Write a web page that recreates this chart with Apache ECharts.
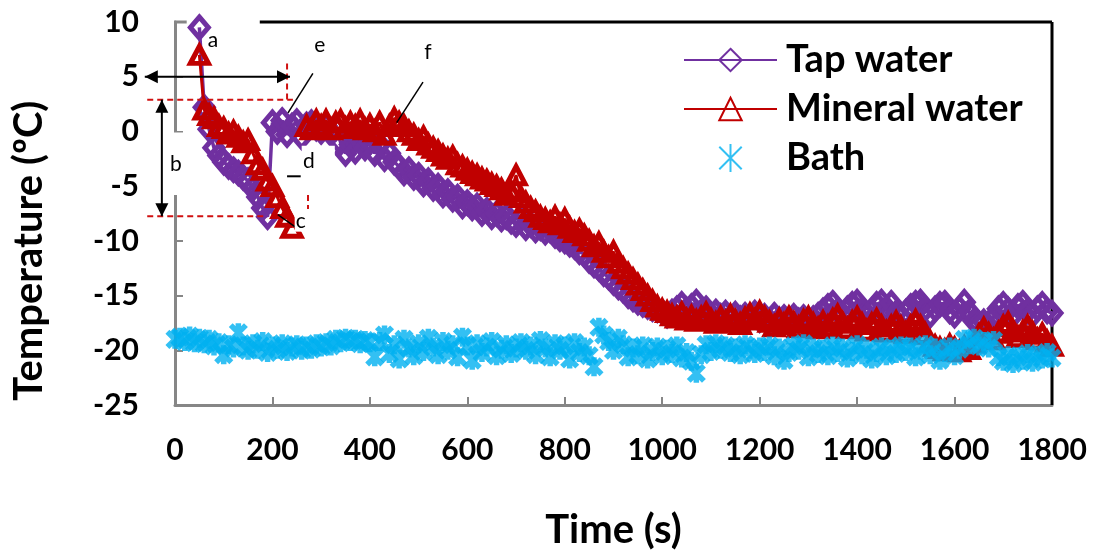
<!DOCTYPE html>
<html><head><meta charset="utf-8">
<script src="https://cdn.jsdelivr.net/npm/echarts@6/dist/echarts.min.js"></script>
<style>html,body{margin:0;padding:0;background:#fff}#c{width:1094px;height:555px}</style>
</head><body><div id="c"></div>
<script>
// ---------- data ----------
const seriesNames = ['Tap water', 'Mineral water', 'Bath'];
const tapStart = 50, tapStep = 10;
const tapWater = [
 9.5, 2.2, 0.2, -1.5, -2.2, -2.8, -3.2, -3.5, -3.8, -4.2,
 -4.5, -5.2, -6.0, -7.0, -7.8, 0.8, 0.0, 1.0, -0.3, 0.5,
 0.9, -0.5, 0.6, 0.8, 0.3, 0.0, 0.5, -0.2, 0.3, -1.0,
 -2.0, -1.2, -1.8, -0.8, -1.5, -1.0, -2.0, -1.2, -2.5, -2.0,
 -2.8, -3.2, -3.8, -3.5, -4.2, -4.0, -4.8, -4.5, -5.2, -5.0,
 -5.8, -5.5, -6.2, -6.0, -6.8, -6.5, -7.0, -6.8, -7.5, -7.2,
 -7.8, -7.5, -8.0, -7.8, -8.2, -8.5, -8.0, -8.8, -8.5, -9.0,
 -8.8, -9.2, -9.0, -9.5, -9.8, -10.0, -10.3, -10.5, -11.0, -11.2,
 -11.8, -12.2, -12.5, -13.0, -13.3, -13.8, -14.2, -14.5, -15.0, -15.3,
 -15.6, -15.8, -16.0, -16.2, -16.3, -16.5, -16.8, -16.5, -16.2, -15.8,
 -16.3, -16.0, -15.6, -16.5, -16.2, -16.8, -16.5, -16.9, -16.6, -17.0,
 -16.7, -17.1, -16.8, -17.0, -16.6, -17.2, -16.9, -17.3, -16.8, -17.2,
 -17.0, -17.4, -16.9, -17.3, -17.0, -17.4, -17.1, -16.8, -16.4, -16.0,
 -15.7, -16.4, -16.8, -16.2, -15.8, -15.6, -16.3, -16.9, -16.4, -15.8,
 -15.6, -16.2, -15.7, -16.6, -17.0, -16.5, -16.0, -15.7, -15.6, -16.2,
 -16.8, -16.2, -15.8, -15.7, -16.4, -16.8, -16.2, -15.6, -16.5, -17.3,
 -17.6, -17.4, -17.8, -17.0, -16.2, -15.8, -16.3, -16.8, -16.0, -15.7,
 -16.4, -16.8, -16.2, -15.8, -16.4, -16.6
];
const mineralStart = 50, mineralStep = 10;
const mineralWater = [
 7.0, 2.0, 1.5, 1.2, 0.5, 0.3, -0.2, 0.0, -0.5, -1.0,
 -0.8, -2.0, -3.0, -3.5, -4.5, -5.0, -6.0, -7.0, -7.8, -8.8,
 null, null, 0.5, 0.2, 1.0, 0.5, 1.0, 0.2, 0.8, 1.0,
 0.3, 0.8, 0.5, 1.0, 0.2, 0.6, 0.0, 0.8, -0.3, 0.5,
 1.2, 0.8, 0.5, 0.0, -0.3, -0.8, -0.5, -1.2, -1.5, -1.8,
 -2.2, -2.5, -2.3, -3.0, -3.2, -3.5, -3.8, -4.0, -4.3, -4.5,
 -4.8, -5.0, -5.3, -5.8, -5.5, -4.0, -6.0, -6.5, -7.0, -7.3,
 -7.8, -8.0, -8.3, -7.8, -8.5, -8.0, -8.8, -9.2, -9.0, -9.5,
 -10.0, -10.5, -10.2, -11.0, -11.5, -11.0, -12.0, -12.5, -13.0, -13.5,
 -14.0, -14.5, -15.0, -15.5, -16.0, -16.3, -16.5, -16.8, -17.0, -16.6,
 -17.2, -16.9, -17.3, -17.0, -16.6, -17.2, -17.5, -17.0, -17.4, -16.8,
 -17.3, -17.6, -17.1, -16.7, -17.2, -16.5, -17.0, -17.4, -17.8, -17.2,
 -17.6, -17.0, -17.5, -17.9, -17.3, -17.0, -17.6, -18.0, -17.4, -17.8,
 -17.2, -16.8, -17.5, -18.0, -17.4, -17.0, -17.6, -18.2, -17.6, -17.2,
 -17.8, -18.3, -17.8, -17.4, -17.9, -18.4, -17.8, -17.3, -17.8, -18.5,
 -19.2, -19.6, -19.8, -20.0, -19.5, -19.8, -20.1, -19.7, -19.9, -19.3,
 -18.6, -18.0, -18.5, -19.0, -18.4, -17.8, -17.5, -18.2, -18.8, -18.3,
 -17.8, -18.4, -19.0, -18.5, -19.2, -19.6
];
const bathStart = 0, bathStep = 10;
const bath = [
 -19.0, -18.8, -19.2, -18.7, -19.3, -18.9, -19.4, -19.0, -19.6, -19.3,
 -20.4, -19.5, -19.8, -18.4, -19.6, -20.0, -19.4, -19.9, -19.2, -20.2,
 -19.6, -19.9, -19.4, -20.1, -19.7, -19.5, -20.0, -19.6, -19.9, -19.4,
 -19.7, -19.3, -19.6, -19.0, -19.3, -18.9, -19.2, -19.0, -19.4, -19.1,
 -19.3, -20.6, -19.2, -18.6, -20.3, -19.5, -20.8, -19.0, -19.8, -20.5,
 -19.4, -20.1, -18.9, -19.7, -20.4, -19.2, -20.0, -19.5, -20.6, -18.8,
 -19.6, -20.9, -19.4, -20.2, -19.7, -19.2, -20.5, -19.9, -19.5, -20.3,
 -19.8, -19.3, -20.0, -19.6, -20.4, -19.1, -19.8, -20.6, -19.4, -20.0,
 -19.6, -20.8, -19.3, -20.2, -19.7, -20.5, -21.5, -17.9, -18.6, -19.2,
 -20.0, -18.9, -19.5, -20.6, -19.8, -20.4, -19.6, -20.8, -20.1, -19.7,
 -20.5, -19.9, -20.3, -19.6, -20.7, -20.2, -21.0, -22.1, -20.4, -19.5,
 -20.1, -19.4, -19.9, -19.6, -20.2, -19.8, -20.4, -19.5, -19.9, -20.3,
 -19.7, -20.1, -19.6, -20.5, -19.8, -20.9, -20.2, -19.6, -20.0, -19.4,
 -20.6, -19.8, -20.3, -19.9, -20.5, -19.6, -20.2, -19.8, -20.7, -20.1,
 -19.5, -20.4, -19.9, -20.8, -20.2, -19.7, -20.5, -19.9, -20.3, -19.6,
 -20.1, -19.7, -20.6, -20.0, -19.5, -20.4, -19.8, -20.9, -20.2, -19.7,
 -20.5, -19.9, -19.0, -19.5, -18.9, -19.6, -19.2, -19.8, -19.1, -20.6,
 -21.0, -20.5, -21.2, -20.6, -20.9, -20.3, -21.1, -20.5, -20.8, -20.2,
 -20.7
];
const xMin = 0, xMax = 1800, xInterval = 200;
const yMin = -25, yMax = 10, yInterval = 5;
const xTitle = 'Time (s)';
const yTitle = 'Temperature (ºC)';
// annotation letters and their anchor points (data coordinates)
const noteLabels = [
 {text:'a', at:[78, 8.3]},
 {text:'b', at:[2, -3.0]},
 {text:'c', at:[258, -8.2]},
 {text:'d', at:[275, -2.75]},
 {text:'e', at:[297, 7.9]},
 {text:'f', at:[519, 7.2]}
];

// ---------- chart ----------
const purple = '#7030A0', red = '#C00000', cyan = '#00B0F0', grey = '#868686';
const FONT = 'Lato, "Open Sans", sans-serif';
function pairs(start, step, vals){ return vals.map((v,i)=>[start+i*step, v]); }
const starPath = 'path://M1,1L9,9M9,1L1,9M5,0L5,10';

const chart = echarts.init(document.getElementById('c'));
const axisCommon = {
  axisLine:{show:true, onZero:false, lineStyle:{color:grey, width:3}},
  axisTick:{show:true, inside:true, length:8, lineStyle:{color:grey, width:2}},
  splitLine:{show:false},
  nameLocation:'middle'
};
chart.setOption({
  animation:false,
  grid:{left:175, right:42, top:22, bottom:148},
  xAxis:Object.assign({}, axisCommon, {
    type:'value', min:xMin, max:xMax, interval:xInterval,
    name:xTitle, nameGap:105,
    nameTextStyle:{fontFamily:FONT, fontWeight:'bold', fontSize:40, color:'#000'},
    axisLabel:{fontFamily:FONT, fontWeight:'bold', fontSize:30, color:'#000', margin:30, formatter:v=>String(v)}
  }),
  yAxis:Object.assign({}, axisCommon, {
    type:'value', min:yMin, max:yMax, interval:yInterval,
    axisLabel:{fontFamily:FONT, fontWeight:'bold', fontSize:30, color:'#000', margin:36}
  }),
  legend:{
    orient:'vertical', left:678, top:35, itemWidth:93, itemHeight:28, itemGap:9,
    data:seriesNames,
    textStyle:{fontFamily:FONT, fontWeight:'bold', fontSize:38, color:'#000', lineHeight:40, padding:[0,0,0,4]}
  },
  series:[
    {name:seriesNames[0], type:'line', data:pairs(tapStart, tapStep, tapWater),
     symbol:'diamond', symbolSize:[18,21],
     itemStyle:{color:'rgba(255,255,255,0)', borderColor:purple, borderWidth:5},
     lineStyle:{color:purple, width:3.5}, emphasis:{disabled:true}, z:2},
    {name:seriesNames[1], type:'line', data:pairs(mineralStart, mineralStep, mineralWater),
     symbol:'triangle', symbolSize:[18,17], connectNulls:false,
     itemStyle:{color:'rgba(255,255,255,0)', borderColor:red, borderWidth:5},
     lineStyle:{color:red, width:3}, emphasis:{disabled:true}, z:3},
    {name:seriesNames[2], type:'scatter', data:pairs(bathStart, bathStep, bath),
     symbol:starPath, symbolSize:19, symbolKeepAspect:true,
     itemStyle:{color:'rgba(255,255,255,0)', borderColor:cyan, borderWidth:5.5},
     emphasis:{disabled:true}, z:4}
  ]
});

// ---------- annotations (placed from data coordinates) ----------
function P(t,v){ return chart.convertToPixel({gridIndex:0}, [t,v]); }
const g = [];
function line(a, b, opt){
  const p1 = P(a[0],a[1]), p2 = P(b[0],b[1]);
  g.push({type:'line', z:opt.z||50, silent:true,
    shape:{x1:p1[0], y1:p1[1], x2:p2[0], y2:p2[1]},
    style:{stroke:opt.color||'#000', lineWidth:opt.width||2, lineDash:opt.dash||null}});
}
function head(tip, from){
  const a = P(tip[0],tip[1]), b = P(from[0],from[1]);
  const dx = a[0]-b[0], dy = a[1]-b[1], L = Math.hypot(dx,dy), ux = dx/L, uy = dy/L;
  const len = 13, hw = 6.5;
  const bx = a[0]-ux*len, by = a[1]-uy*len;
  g.push({type:'polygon', z:60, silent:true,
    shape:{points:[[a[0],a[1]],[bx-uy*hw, by+ux*hw],[bx+uy*hw, by-ux*hw]]},
    style:{fill:'#000'}});
}
function dblArrow(a, b){
  line(a, b, {width:2});
  head(a, b); head(b, a);
}
function rect(t1, v1, t2, v2, z){
  const p1 = P(t1,v1), p2 = P(t2,v2);
  g.push({type:'rect', z:z, silent:true,
    shape:{x:Math.min(p1[0],p2[0]), y:Math.min(p1[1],p2[1]), width:Math.abs(p2[0]-p1[0]), height:Math.abs(p2[1]-p1[1])},
    style:{fill:'#fff'}});
}
// y-axis title, placed as in the original
const yTitlePos = P(-300, -10.9);
g.push({type:'text', z:10, silent:true, x:yTitlePos[0], y:yTitlePos[1], rotation:Math.PI/2,
  style:{text:yTitle, font:'bold 40px ' + FONT, fill:'#000', align:'center', verticalAlign:'middle'}});
// plot-area frame: black top and right edges
line([174, yMax], [xMax, yMax], {color:'#000', width:3, z:1});
line([-2, yMax], [24, yMax], {color:grey, width:3, z:1});
line([xMax, yMax], [xMax, yMin], {color:'#000', width:3, z:1});
// white text boxes
rect(-20, -0.1, 31, -5.8, 40);
rect(260, -1.3, 328, -4.4, 40);
// dashed red guides
const dashRed = {color:'#D01010', width:2, dash:[6,4]};
line([-57, 2.9], [242, 2.9], dashRed);
line([-57, -7.75], [185, -7.75], dashRed);
line([230, 6.2], [230, 2.9], dashRed);
line([273, -5.8], [273, -7.1], dashRed);
// arrows
dblArrow([-62, 5], [236, 5]);
dblArrow([-27, 2.9], [-27, -7.75]);
// leader lines
line([211, -7.6], [254, -8.95], {width:1.5});
line([283, 5.3], [232, 1.7], {width:1.5});
line([509, 4.5], [455, 0.8], {width:1.5});
line([230, -4.1], [258, -4.1], {width:2});
// letters
noteLabels.forEach(n => {
  const p = P(n.at[0], n.at[1]);
  g.push({type:'text', z:70, silent:true, x:p[0], y:p[1],
    style:{text:n.text, font:'21px ' + FONT, fill:'#000', align:'center', verticalAlign:'middle',
      backgroundColor: n.text==='c' ? '#fff' : null, padding:[0,1]}});
});
chart.setOption({graphic:g});
</script>
</body></html>
